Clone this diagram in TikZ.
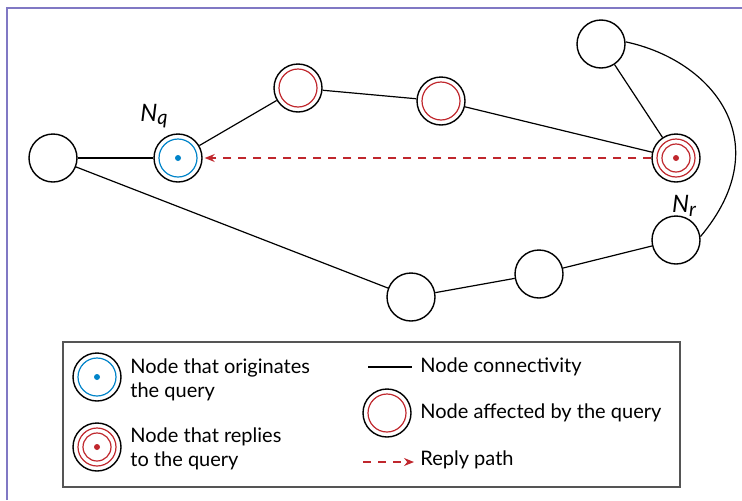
\documentclass[tikz,border=0pt]{standalone}
\usepackage{fontspec}
\setmainfont{Lato}
\usetikzlibrary{arrows.meta}
\definecolor{queryblue}{RGB}{0, 132, 201}
\definecolor{replyred}{RGB}{192, 39, 45}
\definecolor{framepurple}{RGB}{128, 120, 196}
\definecolor{boxgray}{RGB}{85, 85, 85}
\tikzset{
    peer/.style={circle, draw, line width=.7pt, minimum size=24pt,
        inner sep=0pt, fill=white},
    affected/.style={peer, path picture={
        \draw[replyred, line width=.6pt] (path picture bounding box.center)
            circle (9.5pt);}},
    origin/.style={peer, path picture={
        \draw[queryblue, line width=.6pt] (path picture bounding box.center)
            circle (9.5pt);
        \fill[queryblue] (path picture bounding box.center) circle (1.5pt);}},
    replier/.style={peer, path picture={
        \draw[replyred, line width=.6pt] (path picture bounding box.center)
            circle (9.5pt) circle (7pt);
        \fill[replyred] (path picture bounding box.center) circle (1.5pt);}},
    link/.style={line width=.6pt},
    replypath/.style={replyred, line width=.6pt,
        dash pattern=on 4pt off 3.5pt, -{Stealth[length=5pt, width=4pt]}},
    legendtext/.style={anchor=west, align=left, inner sep=0pt},
    peerlabel/.style={font=\fontsize{12}{14}\selectfont\itshape},
}

\begin{document}
\begin{tikzpicture}[x=.5pt, y=.5pt, font=\fontsize{10}{12}\selectfont]
    \useasboundingbox (0, 0) rectangle (742, 500);
    % frame
    \draw[framepurple, line width=.75pt] (7, 0) -- (7, 492) -- (742, 492);
    % network
    \node[peer] (a) at (53, 342) {};
    \node[origin] (nq) at (178, 342) {};
    \node[affected] (b1) at (298, 412) {};
    \node[affected] (b2) at (441, 399) {};
    \node[replier] (nr) at (676, 342) {};
    \node[peer] (top) at (601, 456) {};
    \node[peer] (rlow) at (676, 260) {};
    \node[peer] (mid) at (539, 226) {};
    \node[peer] (bot) at (411, 203) {};
    \node[peerlabel] (nqlabel) at (154, 384) {N{\fontsize{10}{12}\selectfont\raisebox{-.35ex}{q}}};
    \node[peerlabel] (nrlabel) at (684, 294) {N{\fontsize{10}{12}\selectfont\raisebox{-.35ex}{r}}};
    \draw[link] (a) -- (nq);
    \draw[link] (nq) -- (b1);
    \draw[link] (b1) -- (b2);
    \draw[link] (b2) -- (nr);
    \draw[link] (top) -- (nr);
    \draw[link] (top.5) to[out=-12, in=50, out looseness=1.1,
        in looseness=1.5] (rlow.8);
    \draw[link] (a) -- (bot);
    \draw[link] (bot) -- (mid);
    \draw[link] (mid) -- (rlow);
    \draw[replypath, shorten >=1pt] (nr) -- (nq);
    % legend
    \draw[boxgray, line width=.75pt] (63, 13) rectangle (680, 158);
    \node[origin] (korigin) at (97, 123) {};
    \node[legendtext] (torigin) at (130, 120.5)
        {Node that originates\\the query};
    \node[replier] (kreply) at (97, 53) {};
    \node[legendtext] (treply) at (130, 51.5)
        {Node that replies\\to the query};
    \coordinate (klinks) at (368, 133);
    \coordinate (klinke) at (412, 133);
    \draw[link] (klinks) -- (klinke);
    \node[legendtext] (tlink) at (420, 133) {Node connectivity};
    \node[affected] (kaffect) at (387, 87) {};
    \node[legendtext] (taffect) at (420, 87) {Node affected by the query};
    \coordinate (kpaths) at (363, 38);
    \coordinate (kpathe) at (414, 38);
    \draw[replypath] (kpaths) -- (kpathe);
    \node[legendtext] (tpath) at (420, 40) {Reply path};
\end{tikzpicture}
\end{document}
